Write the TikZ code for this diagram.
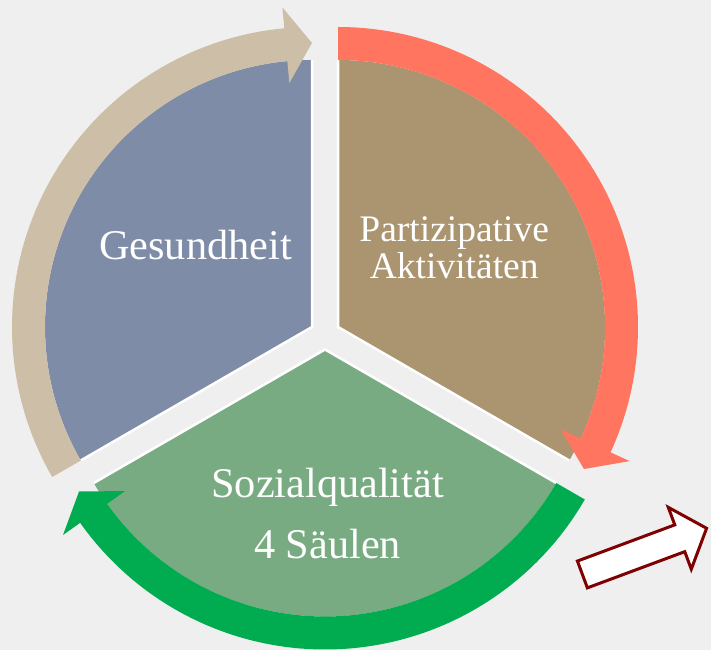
\documentclass[tikz,border=0pt]{standalone}
\usepackage{fontspec}
\setmainfont{Liberation Serif}
\usepackage{tikz}
\definecolor{bg_grey}{RGB}{239,239,239}
\definecolor{ges_blue}{RGB}{127,140,168}
\definecolor{part_brown}{RGB}{171,148,112}
\definecolor{soz_green}{RGB}{121,171,130}
\definecolor{arr_beige}{RGB}{205,191,167}
\definecolor{arr_red}{RGB}{255,117,96}
\definecolor{arr_green}{RGB}{0,172,79}
\definecolor{dark_red}{RGB}{127,0,0}
\tikzstyle{sek}=[draw=white,line width=0.75mm]
\tikzstyle{txt}=[text=white,anchor=base,inner sep=0pt]
\tikzstyle{bigtxt}=[txt,font=\fontsize{36.1}{40}\selectfont]
\tikzstyle{smalltxt}=[txt,font=\fontsize{32}{36}\selectfont]

\begin{document}
\begin{tikzpicture}[x=0.3mm,y=0.3mm]
        \useasboundingbox (0,0) rectangle (711,650);
        \fill[bg_grey] (0,0) rectangle (711,650);
        % sector centres
        \coordinate (c0) at (312,323);
        \coordinate (c1) at (338,323);
        \coordinate (c2) at (325,300.5);
        % sectors
        \fill[ges_blue] (c0) -- +(90:267) arc[start angle=90,end angle=210,radius=267] -- cycle;
        \fill[part_brown] (c1) -- +(-30:267) arc[start angle=-30,end angle=90,radius=267] -- cycle;
        \fill[soz_green] (c2) -- +(210:267) arc[start angle=210,end angle=330,radius=267] -- cycle;
        \draw[sek] (c0) +(90:267) -- (c0) -- +(210:267);
        \draw[sek] (c1) +(90:267) -- (c1) -- +(-30:267);
        \draw[sek] (c2) +(210:267) -- (c2) -- +(-30:267);
        % cycle arrows
        \begin{scope}[shift={(c0)}]
            \fill[arr_beige] (210:300) arc[start angle=210,end angle=95.3,radius=300] -- (95.3:321) -- (90:284)
                -- (95.3:245) -- (95.3:267) arc[start angle=95.3,end angle=210,radius=267] -- cycle;
        \end{scope}
        \begin{scope}[shift={(c1)}]
            \fill[arr_red] (90:300) arc[start angle=90,end angle=-24.7,radius=300] -- (-24.7:321) -- (-30:284)
                -- (-24.7:245) -- (-24.7:267) arc[start angle=-24.7,end angle=90,radius=267] -- cycle;
        \end{scope}
        \begin{scope}[shift={(c2)}]
            \fill[arr_green] (-30:300) arc[start angle=-30,end angle=-144.7,radius=300] -- (-144.7:321) -- (-150:284)
                -- (-144.7:245) -- (-144.7:267) arc[start angle=-144.7,end angle=-30,radius=267] -- cycle;
        \end{scope}
        % labels
        \node [style=bigtxt] (0) at (195.5,390) {Gesundheit};
        \node [style=smalltxt] (1) at (454.2,408.3) {Partizipative};
        \node [style=smalltxt] (2) at (454.2,371.7) {Aktivitäten};
        \node [style=bigtxt] (3) at (327.7,152.7) {Sozialqualität};
        \node [style=bigtxt] (4) at (327.5,91.7) {4 Säulen};
        % block arrow
        \begin{scope}[shift={(581,75)},rotate=20.4]
            \filldraw[fill=white,draw=dark_red,line width=0.9mm] (1.5,-14.3) -- (105.4,-14.3) -- (105.4,-33)
                -- (134,0) -- (105.4,33) -- (105.4,14.3) -- (1.5,14.3) -- cycle;
        \end{scope}
    \end{tikzpicture}
\end{document}
